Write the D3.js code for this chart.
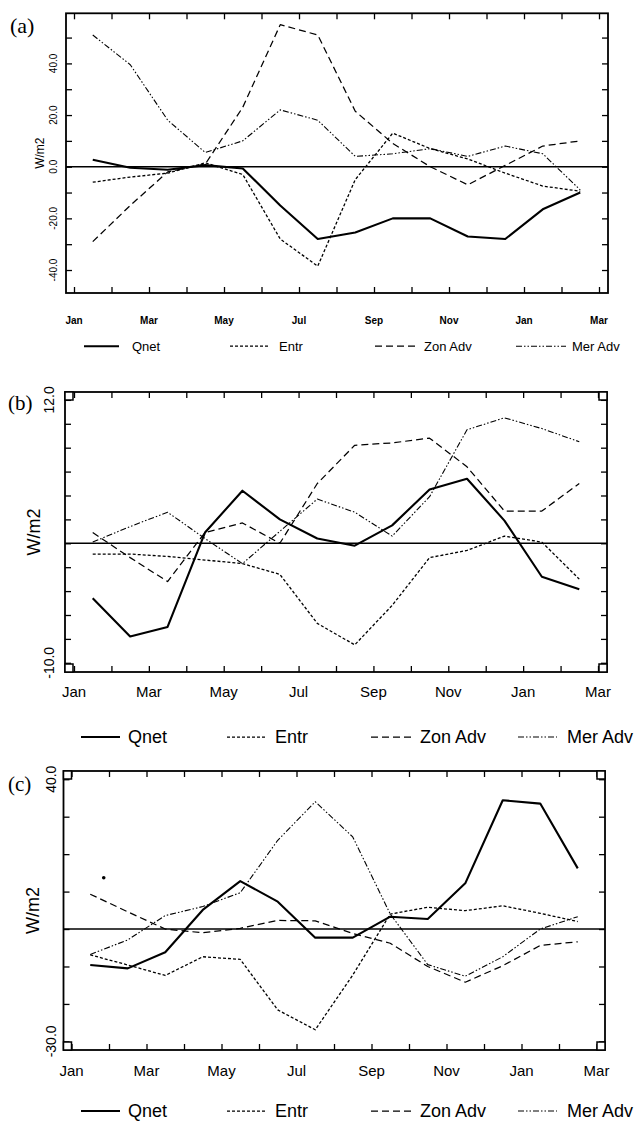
<!DOCTYPE html>
<html>
<head>
<meta charset="utf-8">
<script src="https://d3js.org/d3.v7.min.js"></script>
<style>
  html, body { margin: 0; padding: 0; background: #fff; }
  svg { display: block; }
  text { font-family: "Liberation Sans", Arial, Helvetica, sans-serif; fill: #000; }
  text.tag { font-family: "Liberation Serif", "Times New Roman", serif; }
</style>
</head>
<body>
<script>
// monthly means, mid-Jan of year 1 .. mid-Feb of year 2 (14 values)
const monthLabels = ["Jan", "Mar", "May", "Jul", "Sep", "Nov", "Jan", "Mar"];
const seriesNames = ["Qnet", "Entr", "Zon Adv", "Mer Adv"];

// panel (a)
const qnetA = [2.7, -0.4, -1.2, 0.6, -0.7, -15, -28, -25.5, -20, -20, -27, -28, -16.5, -10];
const entrA = [-6, -4, -2.5, 1.5, -3, -28, -38.5, -5, 13, 7, 3, -2.5, -7.5, -9.5];
const zonA  = [-29, -15, -2, 1, 23, 55, 51, 21.5, 9, 0, -7, 0.5, 8, 10];
const merA  = [51, 39.5, 18, 5.5, 10, 22, 18, 4, 5, 7, 4, 8, 5, -9];
const yLabelsA = [40, 20, 0, -20, -40];

// panel (b)
const qnetB = [-4.6, -7.8, -7.0, 0.9, 4.4, 2.0, 0.4, -0.2, 1.5, 4.5, 5.4, 1.9, -2.8, -3.85];
const entrB = [-0.9, -0.9, -1.1, -1.4, -1.7, -2.6, -6.7, -8.5, -5.2, -1.2, -0.6, 0.6, 0.1, -3.0];
const zonB  = [0.9, -1.2, -3.2, 0.9, 1.7, 0, 5, 8.2, 8.4, 8.8, 6.4, 2.7, 2.7, 5.0];
const merB  = [0.1, 1.4, 2.6, 0.4, -1.7, 1.0, 3.7, 2.6, 0.6, 3.9, 9.5, 10.5, 9.6, 8.5];
const yLabelsB = [12, -10];

// panel (c)
const qnetC = [-9.6, -10.5, -6.2, 5.1, 12.8, 7.3, -2.3, -2.3, 3.3, 2.7, 12.2, 34.4, 33.5, 16.2];
const entrC = [-6.9, -9.6, -12.4, -7.4, -8.1, -21.6, -26.9, -12.3, 4.0, 5.8, 4.9, 6.2, 4.2, 2.0];
const zonC  = [9.3, 4.6, 0, -1, 0.2, 2.3, 2.2, -1.2, -3.8, -10, -14.2, -9.8, -4.4, -3.4];
const merC  = [-6.8, -2.9, 3.6, 6.0, 9.7, 23.7, 34, 24.6, 4, -9.5, -12.6, -7.4, 0, 3.3];
const yLabelsC = [40, -30];
// stray print mark near the start of panel (c): [month, value]
const strayDotC = [0.86, 13.7];

const W = 640, H = 1127;

const STYLES = {
	"Qnet":    { dash: null, width: 2.1 },
	"Entr":    { dash: "3,2", width: 1.3 },
	"Zon Adv": { dash: "7,4", width: 1.25 },
	"Mer Adv": { dash: "6,2,1.5,2,1.5,2", width: 1.1 }
};

const panels = [
	{
		tag: "(a)", tagPos: [10, 33], tagSize: 22,
		series: [qnetA, entrA, zonA, merA],
		frame: { l: 66, r: 608, t: 13.3, b: 293 },
		monthRange: [74, 599],
		yDomain: [-48.9, 59.4], yStep: 10, yLabels: yLabelsA,
		yLabelX: 57, yLabelSize: 10,
		unitX: 44, unitSize: 12,
		xLabelY: 324, xLabelSize: 10, xLabelWeight: "bold",
		corners: false,
		legend: { y: 350.5, size: 13, items: [[84, 119, 132], [230, 268, 279], [375, 416, 424], [516, 566, 572]] }
	},
	{
		tag: "(b)", tagPos: [8, 410], tagSize: 21,
		series: [qnetB, entrB, zonB, merB],
		frame: { l: 65, r: 607, t: 392, b: 672 },
		monthRange: [74, 598],
		yDomain: [-10.77, 12.66], yStep: 2, yLabels: yLabelsB,
		yLabelX: 54, yLabelSize: 14,
		unitX: 40, unitSize: 18,
		xLabelY: 697, xLabelSize: 15, xLabelWeight: "normal",
		corners: true,
		legend: { y: 743, size: 18, items: [[81, 120, 128], [227, 266, 275], [371, 414, 420], [518, 557, 567]] }
	},
	{
		tag: "(c)", tagPos: [8, 791], tagSize: 21,
		series: [qnetC, entrC, zonC, merC],
		frame: { l: 63.5, r: 605, t: 771, b: 1050 },
		monthRange: [71.5, 596.5],
		yDomain: [-32.3, 42.2], yStep: 10, yLabels: yLabelsC,
		yLabelX: 56, yLabelSize: 14,
		unitX: 39, unitSize: 18,
		xLabelY: 1076, xLabelSize: 15, xLabelWeight: "normal",
		corners: true, stray: strayDotC,
		legend: { y: 1117, size: 18, items: [[81, 120, 128], [227, 266, 275], [371, 414, 420], [518, 557, 567]] }
	}
];

const fmt = d => d3.format(".1f")(d).replace("\u2212", "-");

const svg = d3.select("body").append("svg")
	.attr("width", W)
	.attr("height", H);

function drawPanel(p) {
	const g = svg.append("g");
	const f = p.frame;

	const x = d3.scaleLinear().domain([0, 14]).range(p.monthRange);
	const y = d3.scaleLinear().domain(p.yDomain).range([f.b, f.t]);

	const monthTicks = d3.range(0, 15);
	const yTicks = d3.range(Math.ceil(p.yDomain[0] / p.yStep) * p.yStep, p.yDomain[1], p.yStep);

	// inward ticks on all four sides
	g.append("g").attr("transform", `translate(0,${f.b})`)
		.call(d3.axisBottom(x).tickValues(monthTicks).tickSize(-6).tickFormat(""));
	g.append("g").attr("transform", `translate(0,${f.t})`)
		.call(d3.axisTop(x).tickValues(monthTicks).tickSize(-6).tickFormat(""));
	g.append("g").attr("transform", `translate(${f.l},0)`)
		.call(d3.axisLeft(y).tickValues(yTicks).tickSize(-6).tickFormat(""));
	g.append("g").attr("transform", `translate(${f.r},0)`)
		.call(d3.axisRight(y).tickValues(yTicks).tickSize(-6).tickFormat(""));
	g.selectAll(".domain").remove();
	g.selectAll(".tick line").attr("stroke", "#000").attr("stroke-width", 1.3);

	// month labels
	g.append("g").selectAll("text")
		.data(monthLabels)
		.join("text")
		.attr("x", (d, i) => x(i * 2))
		.attr("y", p.xLabelY)
		.attr("text-anchor", "middle")
		.attr("font-size", p.xLabelSize)
		.attr("font-weight", p.xLabelWeight)
		.text(d => d);

	// rotated value labels
	g.append("g").selectAll("text")
		.data(p.yLabels)
		.join("text")
		.attr("transform", d => `translate(${p.yLabelX},${y(d)}) rotate(-90)`)
		.attr("text-anchor", "middle")
		.attr("font-size", p.yLabelSize)
		.text(fmt);

	g.append("text")
		.attr("transform", `translate(${p.unitX},${(f.t + f.b) / 2}) rotate(-90)`)
		.attr("text-anchor", "middle")
		.attr("font-size", p.unitSize)
		.text("W/m2");

	g.append("text")
		.attr("class", "tag")
		.attr("x", p.tagPos[0])
		.attr("y", p.tagPos[1])
		.attr("font-size", p.tagSize)
		.text(p.tag);

	// frame
	g.append("rect")
		.attr("x", f.l).attr("y", f.t)
		.attr("width", f.r - f.l).attr("height", f.b - f.t)
		.attr("fill", "none")
		.attr("stroke", "#000")
		.attr("stroke-width", 1.8);

	if (p.corners) {
		const s = 8;
		const pts = [[f.l, f.t], [f.r - s, f.t], [f.l, f.b - s], [f.r - s, f.b - s]];
		g.append("g").selectAll("rect")
			.data(pts)
			.join("rect")
			.attr("x", d => d[0]).attr("y", d => d[1])
			.attr("width", s).attr("height", s)
			.attr("fill", "#fff")
			.attr("stroke", "#000")
			.attr("stroke-width", 1.5);
	}

	// zero line
	g.append("line")
		.attr("x1", f.l).attr("x2", f.r)
		.attr("y1", y(0)).attr("y2", y(0))
		.attr("stroke", "#000")
		.attr("stroke-width", 1.5);

	const line = d3.line()
		.x((d, i) => x(i + 0.5))
		.y(d => y(d));

	// draw Qnet last so it sits on top
	const order = [3, 2, 1, 0];
	for (const k of order) {
		const st = STYLES[seriesNames[k]];
		g.append("path")
			.attr("d", line(p.series[k]))
			.attr("fill", "none")
			.attr("stroke", "#000")
			.attr("stroke-width", st.width)
			.attr("stroke-dasharray", st.dash)
			.attr("stroke-linejoin", "round");
	}

	if (p.stray) {
		g.append("circle")
			.attr("cx", x(p.stray[0]))
			.attr("cy", y(p.stray[1]))
			.attr("r", 1.8)
			.attr("fill", "#000");
	}

	// legend
	const lg = g.append("g");
	p.legend.items.forEach((it, k) => {
		const st = STYLES[seriesNames[k]];
		const ly = p.legend.y - p.legend.size * 0.33;
		lg.append("line")
			.attr("x1", it[0]).attr("x2", it[1])
			.attr("y1", ly).attr("y2", ly)
			.attr("stroke", "#000")
			.attr("stroke-width", st.width)
			.attr("stroke-dasharray", st.dash);
		lg.append("text")
			.attr("x", it[2])
			.attr("y", p.legend.y)
			.attr("font-size", p.legend.size)
			.text(seriesNames[k]);
	});
}

panels.forEach(drawPanel);
</script>
</body>
</html>
